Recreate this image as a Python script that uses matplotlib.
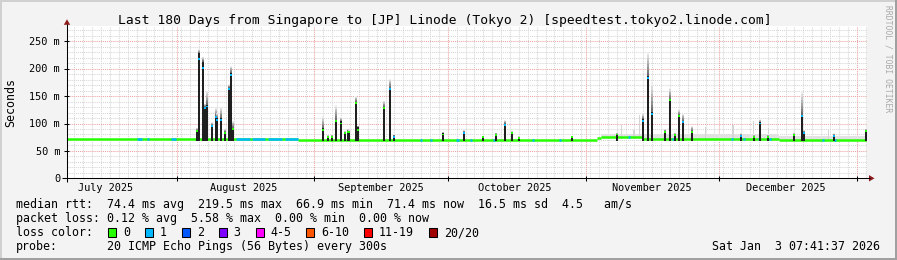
import matplotlib
matplotlib.use('Agg')
import matplotlib.pyplot as plt
from matplotlib.patches import Rectangle, Polygon
from matplotlib.lines import Line2D
import numpy as np

W, H = 897, 260

# ---------------- data ----------------
# x axis: days relative to 2025-08-01 00:00
X_START, X_END = -24.68, 155.32
Y_MAX = 277.5

title = "Last 180 Days from Singapore to [JP] Linode (Tokyo 2) [speedtest.tokyo2.linode.com]"
month_starts = [0, 31, 61, 92, 122, 153]
month_label_days = [-16, 15, 46, 76, 107, 137]
month_labels = ['July 2025', 'August 2025', 'September 2025', 'October 2025',
                'November 2025', 'December 2025']

ytick_values = [0, 50, 100, 150, 200, 250]
ytick_labels = ['0', '50 m', '100 m', '150 m', '200 m', '250 m']

# median baseline levels (ms)
base_start = [-24.68, 27.4, 94.6, 95.5, 104.8, 135.6]
base_end = [27.4, 94.6, 95.5, 104.8, 135.6, 155.32]
base_ms = [72.0, 70.8, 73.5, 75.5, 72.0, 70.8]

# stretches where the median was drawn in the "1 lost" colour
loss1_start = [-9.01, -6.76, -1.35, 13.29, 16.90, 20.50, 24.34, 54.75, 57.01, 62.87,
               66.02, 71.20, 79.99, 86.07, 101.62, 111.54, 124.83, 127.31, 130.69,
               133.17, 145.11, 147.81]
loss1_end = [-7.89, -6.31, -0.23, 16.45, 19.83, 23.66, 27.26, 55.20, 57.46, 63.54,
             66.47, 71.65, 80.44, 86.53, 102.07, 111.99, 125.28, 127.76, 131.14,
             133.62, 145.56, 148.27]

# light smoke band above the baseline
band_start = [95.5, 104.8, 135.6]
band_end = [104.8, 135.6, 155.0]
band_top = [80, 80, 78]

# latency spikes
spike_day = [4.66, 4.96, 5.86, 6.47, 6.83, 7.95, 8.79, 9.13, 9.91, 10.82, 11.87, 12.33,
             12.69, 32.9, 34.0, 34.86, 35.76, 36.95, 37.79, 38.46, 38.82, 40.33, 40.85,
             46.71, 47.99, 48.83, 59.87, 64.74, 68.88, 71.88, 73.91, 75.42, 77.13, 88.94,
             99.14, 105.0, 106.06, 107.03, 109.85, 111.09, 112.06, 113.05, 114.02,
             116.04, 127.08, 129.95, 131.14, 133.1, 138.96, 140.6, 141.06, 147.97, 155.02]
spike_top = [88, 228, 213, 131, 134, 97, 114, 110, 110, 85, 165, 193,
             92, 91, 76, 77, 107, 104, 84, 87, 85, 140, 94,
             131, 165, 78, 82, 85, 76, 81, 100, 84, 75, 76,
             81, 108, 187, 121, 86, 145, 80, 116, 105,
             87, 79, 77, 102, 77, 80, 116, 85, 79, 88]
spike_median = [86, 218, 202, 128, 131, 95, 112, 107, 107, 82, 163, 188,
                90, 88, 75, 76, 105, 100, 82, 85, 84, 137, 88,
                128, 163, 76, 80, 82, 75, 79, 97, 82, 74, 75,
                80, 105, 183, 118, 84, 143, 79, 113, 102,
                85, 78, 76, 100, 76, 79, 113, 83, 78, 86]
spike_loss = [0, 1, 1, 1, 1, 1, 1, 1, 1, 0, 1, 1,
              0, 0, 0, 0, 0, 0, 0, 0, 0, 0, 0,
              0, 1, 1, 0, 1, 0, 0, 1, 0, 0, 0,
              0, 1, 1, 1, 0, 0, 0, 0, 1,
              0, 1, 0, 1, 0, 0, 1, 1, 1, 0]
spike_smoke = [92, 236, 222, 136, 160, 102, 128, 120, 130, 90, 172, 205,
               105, 113, 79, 80, 134, 112, 86, 90, 88, 150, 96,
               142, 182, 80, 85, 88, 78, 83, 106, 86, 77, 78,
               83, 118, 230, 175, 90, 165, 83, 125, 118,
               95, 82, 80, 108, 80, 83, 160, 88, 82, 90]

# faint single smoke streaks
faint_day = [100.05, 102.9, 104.1, 118.96, 125.2, 129.8, 133.1, 146.6]
faint_top = [97, 88, 116, 94, 97, 104, 92, 88]

legend_rows = [
    ("median rtt:", "74.4 ms avg  219.5 ms max  66.9 ms min  71.4 ms now  16.5 ms sd  4.5   am/s"),
    ("packet loss:", "0.12 % avg  5.58 % max  0.00 % min  0.00 % now"),
    ("loss color:", ""),
    ("probe:", "20 ICMP Echo Pings (56 Bytes) every 300s"),
]
loss_labels = ['0', '1', '2', '3', '4-5', '6-10', '11-19', '20/20']
loss_colors = ['#26ff00', '#00b8ff', '#0059ff', '#7e00ff', '#ff00ff', '#ff5500',
               '#ff0000', '#a10000']
timestamp = "Sat Jan  3 07:41:37 2026"

# ---------------- drawing ----------------
MONO = 'DejaVu Sans Mono'
BG = '#f3f3f3'

fig = plt.figure(figsize=(W / 100, H / 100), dpi=100)
fig.patch.set_facecolor(BG)

PL, PR, PT, PB = 67, 867, 26.3, 178.3   # plot area in pixels


def fx(x):
    return x / W


def fy(y):
    return 1 - y / H


ax = fig.add_axes([fx(PL), fy(PB), (PR - PL) / W, (PB - PT) / H])
ax.set_facecolor('white')
ax.set_xlim(X_START, X_END)
ax.set_ylim(0, Y_MAX)
for s in ax.spines.values():
    s.set_visible(False)
ax.set_xticks([])
ax.set_yticks([])

px_per_day = (PR - PL) / (X_END - X_START)
px_per_ms = (PB - PT) / Y_MAX


def xpix(d):
    return PL + (d - X_START) * px_per_day


def ypix(v):
    return PB - v * px_per_ms


# grid
dot = (0, (1, 1))
for v in range(10, int(Y_MAX) + 1, 10):
    if v % 50:
        ax.axhline(v, color='#d6d6d6', lw=0.75, ls=dot, zorder=0)
d = int(np.ceil(X_START))
while d <= X_END:
    if d % 2 != 0 and d not in month_starts:
        ax.axvline(d, color='#d6d6d6', lw=0.75, ls=dot, zorder=0)
    d += 1
for v in ytick_values[1:]:
    ax.axhline(v, color='#eba3a3', lw=0.75, ls=dot, zorder=0.5)
for m in month_starts:
    ax.axvline(m, color='#eba3a3', lw=0.75, ls=dot, zorder=0.5)

# smoke band
for s0, s1, top, lvl in zip(band_start, band_end, band_top,
                            [75.5, 72.0, 70.8]):
    ax.fill_between([s0, s1], [lvl, lvl], [top, top], color='#e2e2e2', lw=0, zorder=1)
for dd, tt in zip(faint_day, faint_top):
    ax.bar(dd, tt - 72, bottom=72, width=0.3, color='#d4d4d4', lw=0, zorder=1)


def base_at(day):
    for s0, s1, v in zip(base_start, base_end, base_ms):
        if s0 <= day < s1:
            return v
    return base_ms[-1]


# baseline median
ax.hlines(base_ms, base_start, base_end, colors=loss_colors[0], lw=1.8, zorder=3)
for s0, s1 in zip(loss1_start, loss1_end):
    v = base_at((s0 + s1) / 2)
    ax.hlines(v, s0, s1, colors=loss_colors[1], lw=1.8, zorder=3.1)

# spikes
BW = 0.45
for dd, top, med, loss, smk in zip(spike_day, spike_top, spike_median, spike_loss, spike_smoke):
    n = 8
    for k in range(n):
        y0 = top + (smk - top) * k / n
        y1 = top + (smk - top) * (k + 1) / n
        g = 0.35 + 0.58 * (k + 1) / n
        ax.bar(dd, y1 - y0, bottom=y0, width=BW, color=(g, g, g), lw=0, zorder=2)
    ax.bar(dd, top - 69, bottom=69, width=BW, color='#1f1f1f', lw=0, zorder=4)
    ax.bar(dd, 3.4, bottom=med - 1.7, width=BW, color=loss_colors[loss], lw=0, zorder=5)

# ---- axes lines, arrows, ticks (figure pixel coords) ----
def fline(x0, y0, x1, y1, color='black', lw=0.75):
    fig.add_artist(Line2D([fx(x0), fx(x1)], [fy(y0), fy(y1)], color=color, lw=lw,
                          solid_capstyle='butt'))


ARROW = '#8e1b1b'
fline(PL - 5, PB, PR + 3, PB)
fline(PL, PB + 4, PL, PT - 2)
fig.add_artist(Polygon([(fx(PR + 2), fy(PB - 3.2)), (fx(PR + 7.5), fy(PB)),
                        (fx(PR + 2), fy(PB + 3.2))], closed=True, color=ARROW, lw=0))
fig.add_artist(Polygon([(fx(PL - 3.2), fy(PT - 1.5)), (fx(PL), fy(PT - 7)),
                        (fx(PL + 3.2), fy(PT - 1.5))], closed=True, color=ARROW, lw=0))
for v in ytick_values[1:]:
    fline(PL - 3, ypix(v), PL + 2, ypix(v))
for m in month_starts:
    fline(xpix(m), PB - 2, xpix(m), PB + 3)

# tick labels
for v, lab in zip(ytick_values, ytick_labels):
    fig.text(fx(60), fy(ypix(v) + 3.6), lab, ha='right', va='baseline',
             family=MONO, size=7.4, color='black')
for dd, lab in zip(month_label_days, month_labels):
    fig.text(fx(xpix(dd)), fy(191), lab, ha='center', va='baseline',
             family=MONO, size=7.4, color='black')

fig.text(fx(444.5), fy(24), title, ha='center', va='baseline', family=MONO,
         size=9.4, color='black')
fig.text(fx(10.5), fy(103), 'Seconds', ha='center', va='center', rotation=90,
         family=MONO, size=8.4, color='black')
fig.text(fx(887.5), fy(58.5), 'RRDTOOL / TOBI OETIKER', ha='center', va='center',
         rotation=270, family=MONO, size=5.8, color='#a9a9a9')

# legend
base_lines = [208.3, 222.3, 236.2, 250.2]
for (lab, txt), yb in zip(legend_rows, base_lines):
    fig.text(fx(16), fy(yb), lab, ha='left', va='baseline', family=MONO, size=8.4)
    if txt:
        fig.text(fx(107.3), fy(yb), txt, ha='left', va='baseline', family=MONO, size=8.4)

CW = 7.0
xb = 108.3
for lab, col in zip(loss_labels, loss_colors):
    fig.add_artist(Rectangle((fx(xb), fy(236.5)), 8 / W, 9 / H, facecolor=col,
                             edgecolor='black', lw=0.75))
    fig.text(fx(xb + 15), fy(236.2), lab, ha='left', va='baseline', family=MONO, size=8.4)
    xb = xb + 15 + CW * len(lab) + 14.8

fig.text(fx(880), fy(250.2), timestamp, ha='right', va='baseline', family=MONO, size=8.4)

# frame bevel
fig.add_artist(Rectangle((0, fy(2)), 1, 2 / H, color='#d0d0d0', lw=0))
fig.add_artist(Rectangle((0, 0), 2 / W, 1, color='#d0d0d0', lw=0))
fig.add_artist(Rectangle((0, 0), 1, 2 / H, color='#a0a0a0', lw=0))
fig.add_artist(Rectangle((1 - 2 / W, 0), 2 / W, 1, color='#a0a0a0', lw=0))

fig.savefig('out.png', dpi=100, facecolor=BG)
